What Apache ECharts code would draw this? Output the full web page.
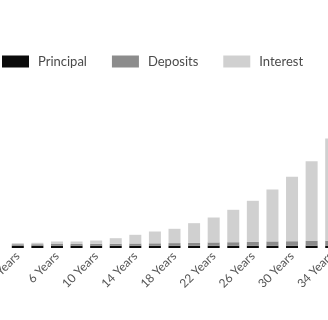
<!DOCTYPE html>
<html>
<head>
<meta charset="utf-8">
<script src="https://cdn.jsdelivr.net/npm/echarts@6/dist/echarts.min.js"></script>
<style>
  html, body { margin: 0; padding: 0; background: #fff; }
  #chart { width: 328px; height: 320px; }
</style>
</head>
<body>
<div id="chart"></div>
<script>
// years shown on the x axis (every other label is printed)
var years = ['2 Years', '4 Years', '6 Years', '8 Years', '10 Years', '12 Years', '14 Years', '16 Years',
  '18 Years', '20 Years', '22 Years', '24 Years', '26 Years', '28 Years', '30 Years', '32 Years', '34 Years'];
var principal = [10000, 10000, 10000, 10000, 10000, 10000, 10000, 10000, 10000,
  10000, 10000, 10000, 10000, 10000, 10000, 10000, 10000];
var deposits = [6500, 6500, 7400, 7800, 8700, 8700, 9600, 10400, 11300,
  12200, 14300, 15200, 16500, 18700, 19600, 20400, 21700];
var interest = [4350, 6100, 10900, 10400, 13900, 23900, 37800, 51300, 62200,
  85700, 108300, 140900, 178700, 225700, 280000, 347000, 444400];

var myChart = echarts.init(document.getElementById('chart'));
var option = {
  backgroundColor: '#fff',
  animation: false,
  legend: {
    data: ['Principal', 'Deposits', 'Interest'],
    left: 2,
    top: 55,
    padding: 0,
    itemWidth: 27,
    itemHeight: 12,
    itemGap: 25,
    icon: 'rect',
    textStyle: {
      color: '#4a4a4a',
      fontSize: 13,
      fontFamily: 'Lato',
      padding: [0, 0, 0, 4]
    }
  },
  grid: {
    left: 8,
    right: -13,
    top: 18,
    bottom: 72,
    outerBoundsMode: 'none',
    containLabel: false
  },
  xAxis: {
    type: 'category',
    data: years,
    axisLine: { show: false },
    axisTick: { show: false },
    axisLabel: {
      interval: 1,
      rotate: 45,
      margin: 6,
      color: '#555',
      fontSize: 12,
      fontFamily: 'Lato'
    }
  },
  yAxis: {
    type: 'value',
    min: 0,
    max: 1000000,
    show: false,
    splitLine: { show: false }
  },
  series: [
    {
      name: 'Principal',
      type: 'bar',
      stack: 'total',
      barWidth: 12,
      itemStyle: { color: '#0b0b0b' },
      data: principal
    },
    {
      name: 'Deposits',
      type: 'bar',
      stack: 'total',
      barWidth: 12,
      itemStyle: { color: '#8c8c8c' },
      data: deposits
    },
    {
      name: 'Interest',
      type: 'bar',
      stack: 'total',
      barWidth: 12,
      itemStyle: { color: '#d0d0d0' },
      data: interest
    }
  ]
};
myChart.setOption(option);
</script>
</body>
</html>
